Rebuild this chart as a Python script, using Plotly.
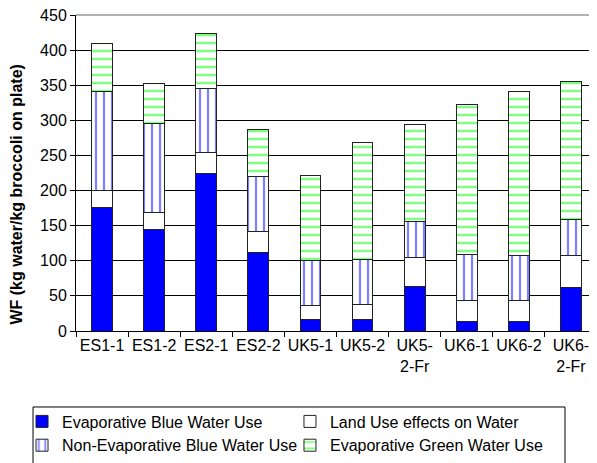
import plotly.graph_objects as go

categories = ["ES1-1", "ES1-2", "ES2-1", "ES2-2", "UK5-1", "UK5-2", "UK5-<br>2-Fr", "UK6-1", "UK6-2", "UK6-<br>2-Fr"]
evap_blue = [176, 145, 224, 112, 16, 16, 64, 14, 14, 62]
land_use = [24, 24, 30, 29, 21, 22, 40, 29, 29, 45]
non_evap_blue = [141, 126, 92, 79, 64, 64, 52, 66, 64, 52]
evap_green = [69, 57, 78, 67, 120, 166, 138, 214, 234, 197]
y_ticks = [0, 50, 100, 150, 200, 250, 300, 350, 400, 450]

FONT = "Liberation Sans, Arial, sans-serif"
FS = 16
LFS = 16
line = dict(color="#222222", width=1)

fig = go.Figure()
fig.add_trace(go.Bar(x=categories, y=evap_blue, name="Evaporative Blue Water Use",
                     marker=dict(color="#0000FF", line=line), legend="legend"))
fig.add_trace(go.Bar(x=categories, y=land_use, name="Land Use effects on Water",
                     marker=dict(color="#FFFFFF", line=line), legend="legend2"))
fig.add_trace(go.Bar(x=categories, y=non_evap_blue, name="Non-Evaporative Blue Water Use",
                     marker=dict(color="#FFFFFF", line=line,
                                 pattern=dict(shape="|", fgcolor="#0000FF", bgcolor="#FFFFFF",
                                              size=8, solidity=0.28, fillmode="overlay")),
                     legend="legend"))
fig.add_trace(go.Bar(x=categories, y=evap_green, name="Evaporative Green Water Use",
                     marker=dict(color="#FFFFFF", line=line,
                                 pattern=dict(shape="-", fgcolor="#00FF00", bgcolor="#FFFFFF",
                                              size=8, solidity=0.3, fillmode="overlay")),
                     legend="legend2"))

fig.update_layout(
    width=589, height=455,
    margin=dict(l=68, r=0, t=7, b=132, autoexpand=False),
    barmode="stack", bargap=0.6,
    plot_bgcolor="white", paper_bgcolor="white",
    font=dict(family=FONT, size=FS, color="black"),
    showlegend=True,
    legend=dict(x=-0.1036, y=-0.2326, xanchor="left", yanchor="top", orientation="v",
                traceorder="normal", bgcolor="rgba(0,0,0,0)", borderwidth=0,
                font=dict(family=FONT, size=LFS), itemwidth=30),
    legend2=dict(x=0.4107, y=-0.2326, xanchor="left", yanchor="top", orientation="v",
                 traceorder="normal", bgcolor="rgba(0,0,0,0)", borderwidth=0,
                 font=dict(family=FONT, size=LFS), itemwidth=30),
    xaxis=dict(showline=True, linecolor="black", linewidth=1, ticks="outside",
               tickson="boundaries", ticklen=5, tickcolor="black", showgrid=False,
               tickangle=0, tickfont=dict(family=FONT, size=FS)),
    yaxis=dict(range=[0, 450], tickvals=y_ticks, showline=True, linecolor="black", linewidth=1,
               ticks="outside", ticklen=5, tickcolor="black", showgrid=True,
               gridcolor="black", gridwidth=1, zeroline=False, ticklabeloverflow="allow",
               tickfont=dict(family=FONT, size=FS)),
    annotations=[dict(text="<b>WF (kg water/kg broccoli on plate)</b>", textangle=-90,
                      xref="paper", yref="paper", x=-0.115, y=0.432,
                      xanchor="center", yanchor="middle", showarrow=False,
                      font=dict(family=FONT, size=FS, color="black"))],
    shapes=[
        dict(type="rect", xref="paper", yref="paper", x0=-0.0825, x1=0.9386,
             y0=-0.2405, y1=-0.48, line=dict(color="black", width=1),
             fillcolor="rgba(0,0,0,0)", layer="below"),
        dict(type="line", xref="paper", yref="paper", x0=0, x1=1, y0=1, y1=1,
             line=dict(color="#999999", width=1.5), layer="below"),
    ],
)

fig.write_html("out.html")
